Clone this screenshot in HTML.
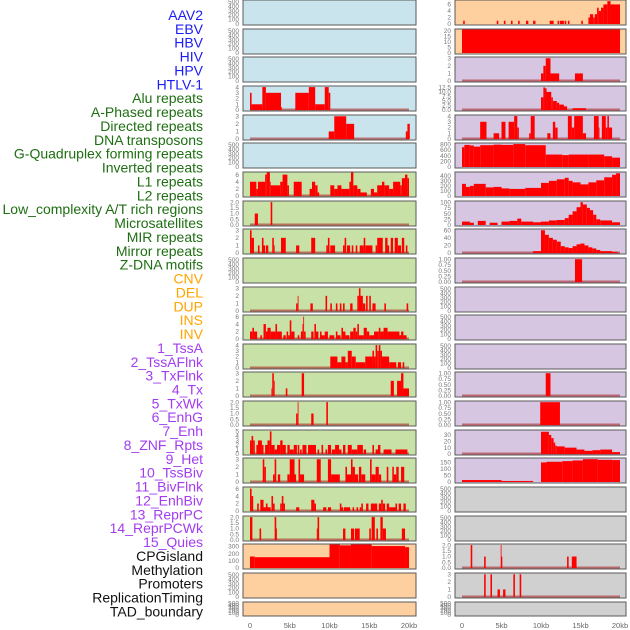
<!DOCTYPE html>
<html><head><meta charset="utf-8"><style>
html,body{margin:0;padding:0;background:#fff;width:630px;height:630px;overflow:hidden}
svg{display:block;font-family:"Liberation Sans",sans-serif}
</style></head><body>
<svg id="chart" width="630" height="630" viewBox="0 0 630 630"></svg>
<script>
// ---- labels ----
const trackLabels = ["AAV2","EBV","HBV","HIV","HPV","HTLV-1","Alu repeats","A-Phased repeats","Directed repeats","DNA transposons","G-Quadruplex forming repeats","Inverted repeats","L1 repeats","L2 repeats","Low_complexity A/T rich regions","Microsatellites","MIR repeats","Mirror repeats","Z-DNA motifs","CNV","DEL","DUP","INS","INV","1_TssA","2_TssAFlnk","3_TxFlnk","4_Tx","5_TxWk","6_EnhG","7_Enh","8_ZNF_Rpts","9_Het","10_TssBiv","11_BivFlnk","12_EnhBiv","13_ReprPC","14_ReprPCWk","15_Quies","CPGisland","Methylation","Promoters","ReplicationTiming","TAD_boundary"];
const labelGroups = [6,13,5,15,5];
const xTickValues = [0,5,10,15,20];
const xTickLabels = ["0","5kb","10kb","15kb","20kb"];
// ---- tick arrays ----
const t500=[0,100,200,300,400,500], t500L=["0","100","200","300","400","500"];
const t3=[0,1,2,3], t3L=["0","1","2","3"];
const t4=[0,1,2,3,4], t4L=["0","1","2","3","4"];
const t5=[0,1,2,3,4,5], t5L=["0","1","2","3","4","5"];
const t6=[0,2,4,6], t6L=["0","2","4","6"];
const t2=[0,0.5,1,1.5,2], t2L=["0.0","0.5","1.0","1.5","2.0"];
const t1=[0,0.25,0.5,0.75,1], t1L=["0.00","0.25","0.50","0.75","1.00"];
const t20=[0,5,10,15,20], t20L=["0","5","10","15","20"];
const t125=[0,2.5,5,7.5,10,12.5], t125L=["0.0","2.5","5.0","7.5","10.0","12.5"];
const t800=[0,200,400,600,800], t800L=["0","200","400","600","800"];
const t400=[0,100,200,300,400], t400L=["0","100","200","300","400"];
const t100=[0,25,50,75,100], t100L=["0","25","50","75","100"];
const t60=[0,20,40,60], t60L=["0","20","40","60"];
const t30=[0,10,20,30], t30L=["0","10","20","30"];
const t150=[0,50,100,150], t150L=["0","50","100","150"];
const t300=[0,100,200,300], t300L=["0","100","200","300"];
// ---- data: [startKb, endKb, value] ----
const aluSegs=[[0,0.2,3],[0.2,1.55,1],[1.55,2,4],[2,3.9,3],[3.9,4.0,0.5],[5.7,7.4,3],[7.4,8.2,4],[8.2,9.4,1],[9.4,9.9,4],[9.9,10.1,3]];
const directedSegs=[[9.9,10.6,1],[10.6,12.1,3],[12.1,13.1,2],[19.6,19.8,1],[19.8,20.1,2]];
const l1Segs=[[0,0.8,4],[0.8,1,2],[1,1.9,4],[1.9,2.1,6],[2.1,2.5,7],[2.5,2.6,4],[2.6,3.8,3],[3.8,4.1,4],[4.1,4.7,6],[4.7,4.9,3],[5.5,6.5,4],[7.5,7.8,2],[7.8,8.2,4],[8.2,8.5,3],[8.5,8.7,1],[10.1,10.6,3],[10.6,11,2],[11,11.5,3],[11.5,12.5,2],[12.5,12.7,4],[12.7,13,7],[13,13.5,3],[13.5,13.9,2],[13.9,14.7,1],[15.2,15.6,2],[15.6,16,1],[16,16.6,3],[16.6,16.9,4],[16.9,17.5,3],[17.5,18,2],[18,18.9,4],[18.9,19.1,3],[19.1,19.5,5],[19.5,19.8,6],[19.8,20,5]];
const lowcSegs=[[0.6,1.0,1],[2.6,2.8,2]];
const mirSegs=[[0,0.2,3],[0.2,0.5,2],[1.0,1.2,1],[1.5,1.7,2],[1.7,1.9,1],[2.0,2.3,1],[2.8,3.0,2],[3.0,3.1,1],[3.9,4.5,2],[5.8,6.2,1],[7.7,8.2,2],[9.6,9.8,1],[9.8,10,2],[10.1,10.7,1],[11.7,11.9,1],[11.9,12.1,2],[12.2,12.6,1],[12.8,13,1],[13.3,13.5,1],[13.8,14.3,1],[14.3,14.5,2],[14.5,15.4,1],[15.8,16,1],[16,16.7,2],[17,17.3,2],[17.3,17.5,1],[17.7,18,2],[18.2,18.6,2],[18.6,19,1],[19.1,19.4,2],[19.6,19.8,1]];
const mirrorSegs=[[5.8,6,1],[6,6.1,2],[7.6,7.9,1],[9.5,9.7,2],[10.1,10.3,1],[10.8,11,1],[11.3,11.5,1],[11.7,11.9,1],[12.6,12.9,1],[13.5,13.7,2],[13.7,13.9,3],[13.9,14.2,2],[14.2,14.5,1],[14.6,14.8,2],[15,15.2,2],[15.4,15.6,1],[15.6,15.8,1],[16.9,17.1,1],[19.7,19.9,1]];
const cnvSegs=[[0,0.3,2],[0.3,0.5,3],[0.5,0.9,2],[1.3,1.5,1],[1.7,2.0,4],[2.0,2.2,2],[2.2,2.6,3],[2.6,3.2,2],[3.2,3.4,4],[3.4,4,2],[4.2,4.5,1],[4.6,4.8,2],[4.8,5,1],[5.0,5.2,5],[5.2,5.6,2],[6.0,6.2,1],[6.4,6.6,2],[6.6,6.7,4],[6.7,6.8,6],[6.8,7.0,2],[7.7,8,2],[8.1,8.3,4],[8.3,8.6,2],[8.8,9,2],[9.0,9.4,1],[9.4,9.8,2],[10.0,10.6,1],[10.8,11,2],[11,11.4,1],[11.5,11.7,3],[11.7,12,2],[12,12.5,1],[12.6,13,2],[13,13.3,3],[13.3,13.5,2],[13.5,13.7,4],[13.7,14.3,1],[14.3,14.7,3],[14.7,15,2],[15.0,15.6,1],[15.6,16.2,2],[16.2,16.4,3],[16.4,16.8,2],[16.8,17.3,3],[17.3,18.8,2],[18.8,19,1],[19,19.3,2],[19.3,19.7,1]];
const delSegs=[[10.1,11,2],[11,11.5,1],[11.5,12,2],[12,12.3,1],[12.3,12.8,3],[12.8,13.3,2],[13.3,14.5,1],[14.5,15.4,2],[15.4,15.6,3],[15.6,15.8,2],[15.8,16.0,4],[16,16.2,3],[16.2,16.4,4],[16.4,16.6,3],[16.6,17.5,2],[17.5,18.4,1],[18.6,19,1],[19.2,19.4,1]];
const dupSegs=[[2.7,2.8,1],[2.8,3.0,3],[3.0,3.1,2],[4.5,4.7,1],[6.5,6.8,3],[17.7,18.1,2],[18.5,19,2],[19,19.3,3],[19.3,20,1]];
const insSegs=[[5.8,6.0,1],[6.0,6.1,2],[7.7,8.0,1],[9.6,9.8,2]];
const invSegs=[[0,0.2,3],[0.2,0.4,4],[0.4,0.6,3],[0.8,1.0,2],[1.0,1.5,3],[1.5,1.7,2],[1.9,2.2,2],[2.2,2.5,3],[2.5,2.7,5],[2.7,3.1,2],[3.1,3.4,1],[3.4,3.8,2],[3.8,4.1,3],[4.1,4.5,2],[4.7,5,2],[5.0,5.5,1],[5.5,5.9,2],[6.0,6.2,2],[6.3,6.5,1],[6.6,7.1,2],[7.3,8.3,2],[8.5,8.7,1],[9.0,9.2,2],[9.5,9.7,1],[9.8,10.2,2],[10.3,10.7,1],[10.7,11.2,2],[11.2,11.5,1],[11.7,12,2],[12.3,12.8,2],[12.8,13.5,1],[13.5,14.2,2],[14.3,14.6,1],[15.4,15.6,2],[15.8,16.1,1],[16.1,16.4,2],[16.8,17.8,1],[18.3,19.8,1]];
const tssaSegs=[[1.6,1.8,3],[1.8,2.0,2],[2.9,3.1,1],[3.1,3.3,3],[3.5,3.8,1],[4.7,5,1],[5.0,5.6,3],[5.6,5.8,1],[6.1,6.3,3],[6.3,6.8,1],[8.4,8.9,3],[9.8,10.2,3],[10.2,11.3,1],[12,12.2,2],[12.2,12.7,1],[12.7,12.9,3],[12.9,13.2,2],[13.2,13.6,1],[13.7,14.0,2],[14.0,14.5,1],[15.1,15.3,3],[15.3,15.8,1],[15.8,16.2,2],[16.2,16.5,1],[17.2,17.4,2],[17.9,18.1,2],[18.1,18.4,1],[18.4,18.7,2],[19.0,19.4,2]];
const tssafSegs=[[0,0.2,6],[0.2,0.4,4],[0.9,1.1,2],[1.3,1.7,3],[1.7,2,1],[2.0,2.2,2],[2.2,2.6,1],[2.7,2.9,4],[2.9,3.1,2],[3.8,4,2],[4,4.2,4],[4.2,4.4,2],[5.8,6.2,1],[7.7,8.1,3],[8.1,8.3,2],[9.2,9.6,1],[9.8,10.2,1],[11.3,11.5,2],[11.5,11.7,1],[11.8,12.6,1],[12.9,13.1,1],[13.4,13.6,1],[13.8,14,1],[14.0,14.2,2],[14.6,14.9,2],[15.2,16,2],[16.2,16.5,2],[16.5,16.7,3],[16.7,17,2],[17.2,17.5,2],[17.5,18.3,1],[18.3,18.5,2],[18.7,19,2],[19.3,19.6,2]];
const txfSegs=[[0,0.3,2],[1.2,1.4,1],[3.1,3.3,2],[3.3,3.4,1],[8.4,8.5,1],[8.5,8.7,2],[11.7,12,1],[12.7,13.1,1],[13.2,13.8,1],[15.0,15.2,1],[15.3,15.7,2],[15.9,16.1,1],[16.4,16.7,2],[16.7,17.1,1],[19.1,19.5,1]];
const cpgSegs=[[0,0.6,160],[0.6,10.0,150],[10.0,11.3,330],[11.3,12.7,315],[12.7,15.3,330],[15.3,19.5,305],[19.5,20,290]];
const aav2Segs=[[0.15,0.35,1],[4.4,4.6,1],[5.3,5.5,1],[6.2,6.4,1],[7.1,7.3,1],[8.1,8.4,1],[9.0,9.3,1],[11.1,11.6,1],[12.1,12.3,1],[12.4,12.9,1],[13.0,13.2,1],[13.4,13.6,1],[15.1,15.3,1],[16,16.2,2],[16.2,16.6,3],[16.6,16.8,2],[16.8,17.1,3],[17.1,17.3,5],[17.3,17.6,4],[17.6,17.9,5],[17.9,18.4,6],[18.4,18.8,7],[18.8,20,6]];
const hbvSegs=[[0,20,21]];
const r3Segs=[[10,10.3,1],[10.3,10.6,2],[10.6,11.2,3],[11.2,12.3,1],[14.3,15.3,1]];
const r4Segs=[[10.0,10.3,7],[10.3,10.5,12.5],[10.5,10.7,12],[10.7,11.3,10],[11.3,11.5,7],[11.5,12,5],[12,12.3,4],[12.3,12.9,3],[12.9,13.3,2],[14.0,15.7,1]];
const r5Segs=[[2.3,3.1,3],[4.0,4.7,1],[5.0,5.5,3],[5.9,6.6,3],[6.6,7.0,4],[7.0,7.2,2],[8.5,8.7,1],[8.7,9.2,4],[10.8,11.2,1],[11.5,11.8,3],[11.8,12.1,2],[13.4,13.9,4],[13.9,14.2,2],[14.2,15.3,4],[15.3,15.7,1],[16.7,17.3,4],[17.3,17.4,2],[17.7,18.2,4],[18.2,18.4,2],[18.4,18.6,4],[18.6,19.0,2]];
const r6Segs=[[0,0.3,700],[0.3,1,780],[1,1.5,760],[1.5,2.3,720],[2.3,4,770],[4,5,790],[5,6.5,780],[6.5,8,810],[8,10.6,770],[10.6,12.7,440],[12.7,13.5,420],[13.5,16,440],[16,18,440],[18,19,380],[19,20,330]];
const r7Segs=[[0,0.5,240],[0.5,1,180],[1,1.5,200],[1.5,3,240],[3,4,170],[4,5,180],[5,6,150],[6,8,140],[8,10,160],[10,11,260],[11,12,300],[12,13,330],[13,13.5,360],[13.5,14,300],[14,15,270],[15,16,230],[16,17,270],[17,18,310],[18,19,370],[19,19.5,420],[19.5,20,450]];
const r8Segs=[[0,1,15],[1,1.5,10],[2,3,18],[3.5,4.5,10],[5,6,15],[6,7,18],[7,7.5,28],[7.5,9,15],[9,10,12],[10,11,15],[11,12,20],[12,13,22],[13,13.5,30],[13.5,14,45],[14,14.5,60],[14.5,15,78],[15,15.3,100],[15.3,15.8,90],[15.8,16.2,75],[16.2,16.6,65],[16.6,17,45],[17,17.5,25],[17.5,19,20],[19,20,12]];
const r9Segs=[[9,10,5],[10,10.5,60],[10.5,11,48],[11,11.5,40],[11.5,12,35],[12,12.5,30],[12.5,13,18],[13,13.5,15],[13.5,14,13],[14,14.5,18],[14.5,15,23],[15,15.5,25],[15.5,16,20],[16,16.5,15],[16.5,17,12],[17,17.5,8],[17.5,19,5],[19,19.7,3]];
const r10Segs=[[14.3,15.2,1]];
const r14Segs=[[10.6,11.2,1]];
const r15Segs=[[9.9,12.4,1]];
const r16Segs=[[10,11,35],[11,11.3,30],[11.3,11.6,25],[11.6,11.8,18],[11.8,12,13],[12,13,12],[13,14.5,10],[14.5,15.5,7],[15.5,16.5,5],[16.5,17.5,6],[17.5,19,7],[19,20,3]];
const r17Segs=[[0,5,15],[5,9,8],[10,10.7,150],[10.7,12.7,155],[12.7,14,160],[14,15.3,165],[15.3,17.2,175],[17.2,19,170],[19,20,168]];
const r20Segs=[[1.1,1.3,2],[2.8,3.0,1],[4.9,5.0,2],[5.0,5.1,1],[13.3,13.5,1],[13.9,14.5,1]];
const r21Segs=[[2.8,3.0,3],[3.6,3.8,3],[4.5,4.8,1],[5.2,5.5,1],[6.5,6.7,3],[7.3,7.5,3]];

const BLUE='#c9e4ec',GREEN='#c8e1a6',ORANGE='#fecf9f',PURPLE='#d6c6e2',GREY='#d0d0d0';
function E(bg){return {bg:bg,segs:null,ymax:525,ticks:t500,tl:t500L};}
function P(bg,segs,ymax,ticks,tl,base){return {bg:bg,segs:segs,ymax:ymax,ticks:ticks,tl:tl,base:base!==false};}
const rows=[
 [E(BLUE),P(ORANGE,aav2Segs,7.2,t6,t6L,false)],
 [E(BLUE),P(ORANGE,hbvSegs,21,t20,t20L,false)],
 [E(BLUE),P(PURPLE,r3Segs,3.1,t3,t3L)],
 [P(BLUE,aluSegs,4.1,t4,t4L),P(PURPLE,r4Segs,13,t125,t125L)],
 [P(BLUE,directedSegs,3.1,t3,t3L),P(PURPLE,r5Segs,4.1,t4,t4L)],
 [E(BLUE),P(PURPLE,r6Segs,830,t800,t800L,false)],
 [P(GREEN,l1Segs,6.6,t6,t6L),P(PURPLE,r7Segs,465,t400,t400L,false)],
 [P(GREEN,lowcSegs,2.05,t2,t2L),P(PURPLE,r8Segs,103,t100,t100L,false)],
 [P(GREEN,mirSegs,3.1,t3,t3L),P(PURPLE,r9Segs,62,t60,t60L)],
 [E(GREEN),P(PURPLE,r10Segs,1.03,t1,t1L)],
 [P(GREEN,mirrorSegs,3.1,t3,t3L),E(PURPLE)],
 [P(GREEN,cnvSegs,6.3,t6,t6L),E(PURPLE)],
 [P(GREEN,delSegs,4.1,t4,t4L),E(PURPLE)],
 [P(GREEN,dupSegs,3.1,t3,t3L),P(PURPLE,r14Segs,1.03,t1,t1L)],
 [P(GREEN,insSegs,2.05,t2,t2L),P(PURPLE,r15Segs,1.03,t1,t1L)],
 [P(GREEN,invSegs,5.2,t5,t5L),P(PURPLE,r16Segs,37,t30,t30L)],
 [P(GREEN,tssaSegs,3.1,t3,t3L),P(PURPLE,r17Segs,180,t150,t150L,false)],
 [P(GREEN,tssafSegs,6.3,t6,t6L),E(GREY)],
 [P(GREEN,txfSegs,2.05,t2,t2L),E(GREY)],
 [P(ORANGE,cpgSegs,327,t300,t300L,false),P(GREY,r20Segs,2.05,t2,t2L)],
 [E(ORANGE),P(GREY,r21Segs,3.1,t3,t3L)],
 [E(ORANGE),E(GREY)]
];
const NS='http://www.w3.org/2000/svg';
const svg=document.getElementById('chart');
function mk(tag,attrs,parent){const e=document.createElementNS(NS,tag);for(const k in attrs)e.setAttribute(k,attrs[k]);(parent||svg).appendChild(e);return e;}
const groupColors=['#1c1cf5','#1e6e12','#ffa500','#a33cf0','#111'];
let gi=0,gc=0;
trackLabels.forEach((lab,i)=>{
  const t=mk('text',{x:203,y:15+i*13.87+5,'text-anchor':'end','font-size':'14',fill:groupColors[gi]});
  
  
  t.textContent=lab;
  gc++; if(gc>=labelGroups[gi]){gi++;gc=0;}
});
const cols=[{x0:243,x1:416,d0:250,d1:409},{x0:455,x1:626,d0:462,d1:620}];
rows.forEach((row,ri)=>{
  const top=Math.round(ri*28.65), h=(ri===rows.length-1)?14:25;
  row.forEach((p,ci)=>{
    const c=cols[ci];
    const xs=v=>c.d0+(c.d1-c.d0)*v/20;
    const y0=top+h-1, ys=v=>y0-(h-1.5)*Math.min(v,p.ymax)/p.ymax;
    const g=mk('g',{});
    
    
    mk('rect',{x:c.x0,y:top,width:c.x1-c.x0,height:h,fill:p.bg,stroke:'#5a5a5a','stroke-width':1},g);
    p.ticks.forEach((tv,ti)=>{
      const t=mk('text',{x:c.x0-4,y:ys(tv)+2.2,'text-anchor':'end','font-size':'6.5',fill:'#777'},g);
      
      
      t.textContent=p.tl[ti];
    });
    if(p.segs){
      if(p.base){const b=mk('line',{x1:xs(0),x2:xs(20),y1:y0-0.5,y2:y0-0.5,stroke:'rgba(170,40,40,0.6)','stroke-width':2},g);
        
        }
      p.segs.forEach(s=>{
        const yt=ys(s[2]);
        const r=mk('rect',{x:xs(s[0]),y:yt,width:Math.max(0.8,xs(s[1])-xs(s[0])),height:y0-yt,fill:'#ff0000'},g);
        
        
      });
    }
  });
});
cols.forEach(c=>{
  xTickValues.forEach((v,i)=>{
    const t=mk('text',{x:c.d0+(c.d1-c.d0)*v/20,y:628,'text-anchor':'middle','font-size':'7.5',fill:'#666'});
    
    
    t.textContent=xTickLabels[i];
  });
});
</script>
</body></html>
